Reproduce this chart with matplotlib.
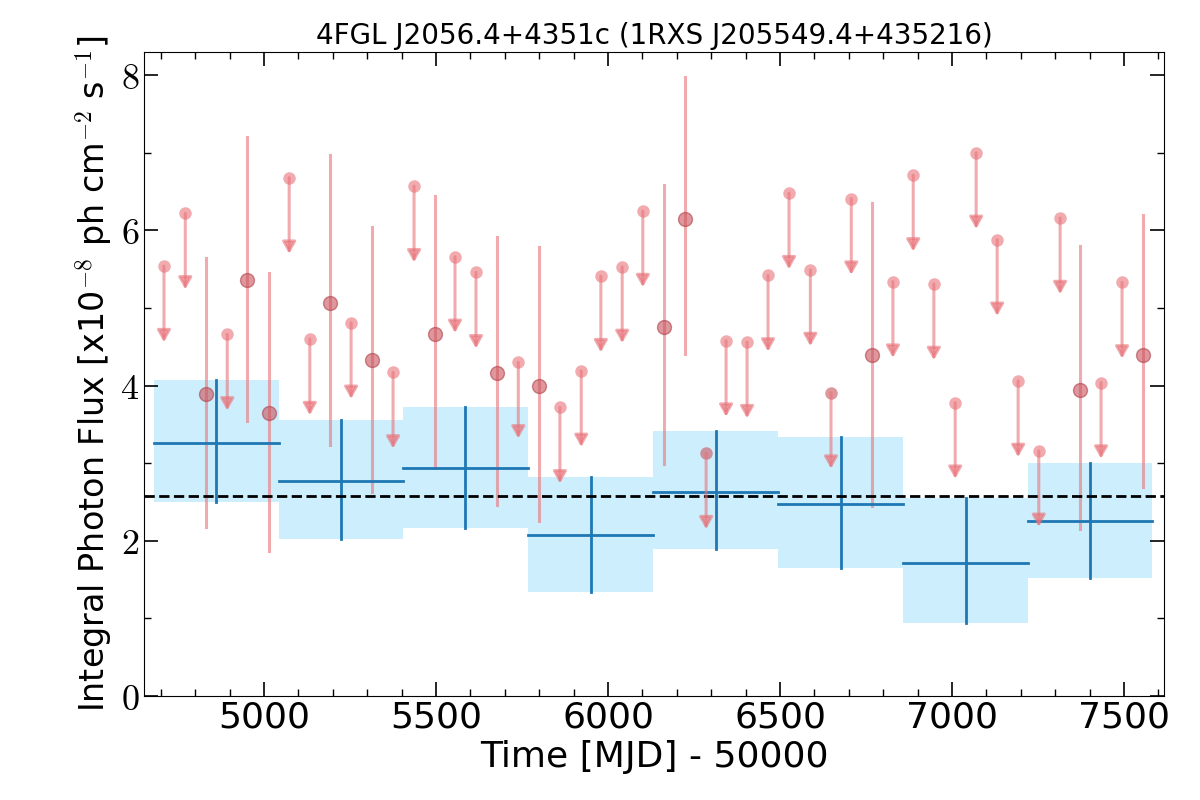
import matplotlib
matplotlib.use("Agg")
import matplotlib.pyplot as plt
from matplotlib.ticker import MultipleLocator, FuncFormatter

plt.rcParams['mathtext.fontset'] = 'cm'
plt.rcParams['font.family'] = ['DejaVu Sans']

# Binned light curve
bin_lo = [4680, 5043, 5404, 5767, 6131, 6495, 6857, 7221]
bin_hi = [5043, 5404, 5767, 6131, 6495, 6857, 7221, 7581]
bin_flux = [3.26, 2.77, 2.94, 2.07, 2.63, 2.47, 1.72, 2.25]
bin_up = [4.07, 3.56, 3.72, 2.82, 3.42, 3.34, 2.55, 3.00]
bin_low = [2.50, 2.02, 2.17, 1.34, 1.90, 1.65, 0.94, 1.52]
mean_flux = 2.58

# Monthly points
t = [4709, 4771, 4831, 4893, 4950, 5014, 5073, 5133, 5192, 5253, 5314, 5375,
     5436, 5497, 5555, 5616, 5677, 5739, 5799, 5860, 5922, 5979, 6041, 6101,
     6163, 6224, 6285, 6343, 6404, 6465, 6526, 6588, 6648, 6707, 6767, 6828,
     6887, 6947, 7009, 7070, 7131, 7192, 7252, 7314, 7372, 7433, 7494, 7556]
f = [5.54, 6.22, 3.89, 4.66, 5.36, 3.65, 6.68, 4.60, 5.06, 4.81, 4.33, 4.17,
     6.57, 4.66, 5.66, 5.46, 4.16, 4.30, 3.99, 3.72, 4.19, 5.41, 5.53, 6.25,
     4.76, 6.15, 3.13, 4.58, 4.56, 5.42, 6.48, 5.49, 3.91, 6.41, 4.40, 5.34,
     6.71, 5.31, 3.78, 7.00, 5.88, 4.06, 3.16, 6.16, 3.95, 4.04, 5.33, 4.40]
is_ul = [1, 1, 0, 1, 0, 0, 1, 1, 0, 1, 0, 1,
         1, 0, 1, 1, 0, 1, 0, 1, 1, 1, 1, 1,
         0, 0, 1, 1, 1, 1, 1, 1, 1, 1, 0, 1,
         1, 1, 1, 1, 1, 1, 1, 1, 0, 1, 1, 0]
f_up = {2: 5.64, 4: 7.20, 5: 5.45, 8: 6.97, 10: 6.05, 13: 6.45, 16: 5.92,
        18: 5.79, 24: 6.58, 25: 7.98, 34: 6.35, 44: 5.80, 47: 6.20}
f_lo = {2: 2.18, 4: 3.54, 5: 1.87, 8: 3.24, 10: 2.63, 13: 2.94, 16: 2.46,
        18: 2.25, 24: 2.99, 25: 4.41, 34: 2.45, 44: 2.15, 47: 2.69}
dark_ul = [26, 32]

fig, ax = plt.subplots(figsize=(12, 8), dpi=100)
fig.subplots_adjust(left=0.12, right=0.97, top=0.935, bottom=0.13)

red = '#e8737a'
for i, (x, y) in enumerate(zip(t, f)):
    if is_ul[i]:
        ax.annotate('', xy=(x, y - 0.98), xytext=(x, y),
                    arrowprops=dict(arrowstyle='-|>,head_width=0.4,head_length=0.7',
                                    color=red, alpha=0.6, lw=2.2,
                                    shrinkA=0, shrinkB=0))
        ax.plot(x, y, 'o', color=('#c8525a' if i in dark_ul else red),
                alpha=0.6, ms=9, mec='none')
    else:
        ax.plot([x, x], [f_lo[i], f_up[i]], color=red, alpha=0.6, lw=2.2)
        ax.plot(x, y, 'o', color='#c8525a', alpha=0.6, ms=10, mec='#b04048')

for lo, hi, v, u, l in zip(bin_lo, bin_hi, bin_flux, bin_up, bin_low):
    ax.fill_between([lo, hi], [l, l], [u, u], color='#cdeefc', zorder=0, lw=0)
    ax.plot([lo, hi], [v, v], color='#1f77b4', lw=2)
    c = (lo + hi) / 2
    ax.plot([c, c], [l, u], color='#1f77b4', lw=2)

ax.axhline(mean_flux, color='black', ls='--', lw=2)

ax.set_xlim(4651, 7616)
ax.set_ylim(0, 8.3)
ax.xaxis.set_major_locator(MultipleLocator(500))
ax.xaxis.set_minor_locator(MultipleLocator(100))
ax.yaxis.set_major_locator(MultipleLocator(2))
ax.yaxis.set_minor_locator(MultipleLocator(1))
ax.tick_params(which='both', direction='in', top=True, right=True)
ax.tick_params(which='major', length=10, width=1.2, labelsize=26)
ax.tick_params(which='minor', length=5, width=1)
ax.yaxis.set_major_formatter(FuncFormatter(lambda v, p: r'$%d$' % v))
ax.set_xlabel('Time [MJD] - 50000', fontsize=26)
ax.set_ylabel(r'Integral Photon Flux [x10$^{-8}$ ph cm$^{-2}$ s$^{-1}$]', fontsize=24)
ax.set_title('4FGL J2056.4+4351c (1RXS J205549.4+435216)', fontsize=20)

fig.savefig('out.png')
